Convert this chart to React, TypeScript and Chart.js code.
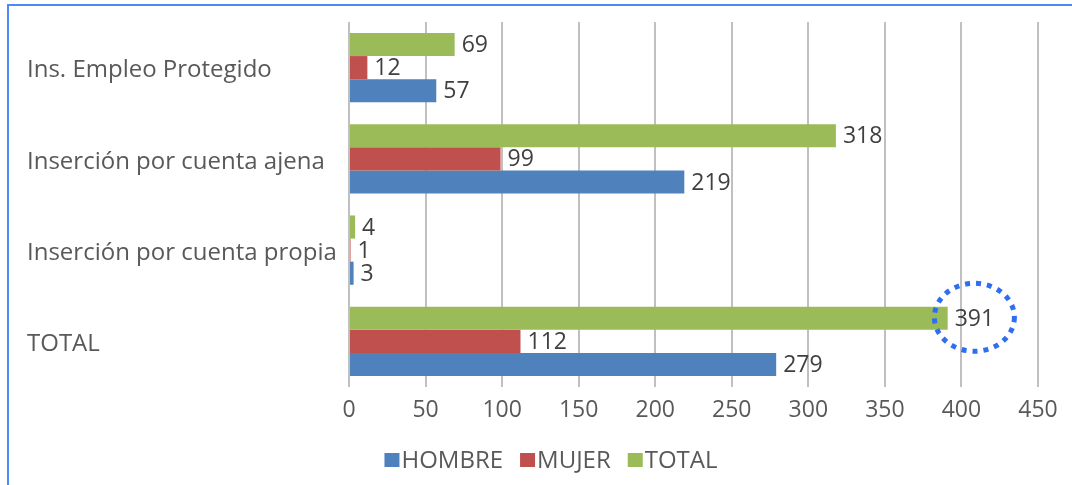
import React, { useEffect, useRef } from "react";
import { Chart, registerables } from "chart.js";

Chart.register(...registerables);

// ---- data ----
const categories = [
  "Ins. Empleo Protegido",
  "Inserción por cuenta ajena",
  "Inserción por cuenta propia",
  "TOTAL",
];
const legendOrder = ["HOMBRE", "MUJER", "TOTAL"];
const hombre = [57, 219, 3, 279];
const mujer = [12, 99, 1, 112];
const total = [69, 318, 4, 391];
const xTickValues = [0, 50, 100, 150, 200, 250, 300, 350, 400, 450];
const highlighted = { series: "TOTAL", category: "TOTAL" };

// ---- styles ----
const COLORS: Record<string, string> = {
  HOMBRE: "#4F81BD",
  MUJER: "#C0504D",
  TOTAL: "#9BBB59",
};
const FONT = "'Open Sans', 'DejaVu Sans', sans-serif";
const TEXT = "#595959";
const LABEL = "#404040";

const valueLabels = {
  id: "valueLabels",
  afterDatasetsDraw(chart: any) {
    const ctx = chart.ctx;
    ctx.save();
    ctx.font = `23px ${FONT}`;
    ctx.fillStyle = LABEL;
    ctx.textAlign = "left";
    ctx.textBaseline = "middle";
    chart.data.datasets.forEach((ds: any, di: number) => {
      const meta = chart.getDatasetMeta(di);
      meta.data.forEach((el: any, i: number) => {
        ctx.fillText(String(ds.data[i]), el.x + 7, el.y + 1);
      });
    });
    ctx.restore();
  },
};

const highlightPlugin = {
  id: "highlight",
  afterDatasetsDraw(chart: any) {
    const di = chart.data.datasets.findIndex((d: any) => d.label === highlighted.series);
    const ci = chart.data.labels.indexOf(highlighted.category);
    if (di < 0 || ci < 0) return;
    const el = chart.getDatasetMeta(di).data[ci];
    const ctx = chart.ctx;
    ctx.save();
    ctx.font = `23px ${FONT}`;
    const w = ctx.measureText(String(chart.data.datasets[di].data[ci])).width;
    const cx = el.x + 7 + w / 2;
    const cy = el.y - 1;
    ctx.strokeStyle = "#2F6EF2";
    ctx.lineWidth = 5;
    ctx.setLineDash([5, 6]);
    ctx.beginPath();
    ctx.ellipse(cx, cy, 40, 34, 0, 0, Math.PI * 2);
    ctx.stroke();
    ctx.restore();
  },
};

const customLegend = {
  id: "customLegend",
  afterDraw(chart: any) {
    const ctx = chart.ctx;
    ctx.save();
    ctx.font = `24px ${FONT}`;
    ctx.textBaseline = "middle";
    ctx.textAlign = "left";
    const box = 15;
    const gap = 2;
    const spacing = 17;
    const items = legendOrder.map((name) => ({
      name,
      color: COLORS[name],
      w: ctx.measureText(name).width,
    }));
    const totalW =
      items.reduce((s, it) => s + box + gap + it.w, 0) + spacing * (items.length - 1);
    let x = 551 - totalW / 2;
    const cy = 460;
    items.forEach((it) => {
      ctx.fillStyle = it.color;
      ctx.fillRect(x, cy - 7, box, 14);
      ctx.fillStyle = TEXT;
      ctx.fillText(it.name, x + box + gap, cy + 1);
      x += box + gap + it.w + spacing;
    });
    ctx.restore();
  },
};

export default function App() {
  const ref = useRef<HTMLCanvasElement>(null);
  useEffect(() => {
    if (!ref.current) return;
    const seriesData: Record<string, number[]> = { HOMBRE: hombre, MUJER: mujer, TOTAL: total };
    const drawOrder = [...legendOrder].reverse(); // TOTAL on top within each group
    const chart = new Chart(ref.current, {
      type: "bar",
      data: {
        labels: categories,
        datasets: drawOrder.map((name) => ({
          label: name,
          data: seriesData[name],
          backgroundColor: COLORS[name],
          borderWidth: 0,
          barPercentage: 1,
          categoryPercentage: 0.76,
        })),
      },
      options: {
        indexAxis: "y",
        animation: false,
        responsive: false,
        devicePixelRatio: 1,
        layout: { padding: { left: 27, top: 22, right: 34, bottom: 58 } },
        plugins: {
          legend: { display: false },
          tooltip: { enabled: false },
        },
        scales: {
          x: {
            min: 0,
            max: 450,
            afterBuildTicks(scale: any) {
              scale.ticks = xTickValues.map((v) => ({ value: v }));
            },
            afterFit(scale: any) {
              scale.height = 40;
            },
            grid: { color: "#C0C0C0", lineWidth: 2, drawTicks: false },
            border: { display: false },
            ticks: {
              color: TEXT,
              font: { family: FONT, size: 23 },
              padding: 10,
              maxRotation: 0,
            },
          },
          y: {
            afterFit(scale: any) {
              scale.width = 322;
            },
            grid: { display: false },
            border: { display: false },
            ticks: {
              crossAlign: "far",
              color: TEXT,
              labelOffset: 3,
              font: { family: FONT, size: 24 },
            },
          },
        },
      },
      plugins: [valueLabels, highlightPlugin, customLegend],
    });
    return () => chart.destroy();
  }, []);
  return (
    <div style={{ position: "absolute", left: 0, top: 0, width: 1072, height: 485, background: "#fff" }}>
      <canvas ref={ref} width={1072} height={485} style={{ display: "block" }} />
      <div
        style={{
          position: "absolute",
          left: 7,
          top: 4,
          right: 0,
          bottom: 0,
          borderTop: "2px solid #4C8BF5",
          borderLeft: "2px solid #4C8BF5",
          pointerEvents: "none",
        }}
      />
    </div>
  );
}
